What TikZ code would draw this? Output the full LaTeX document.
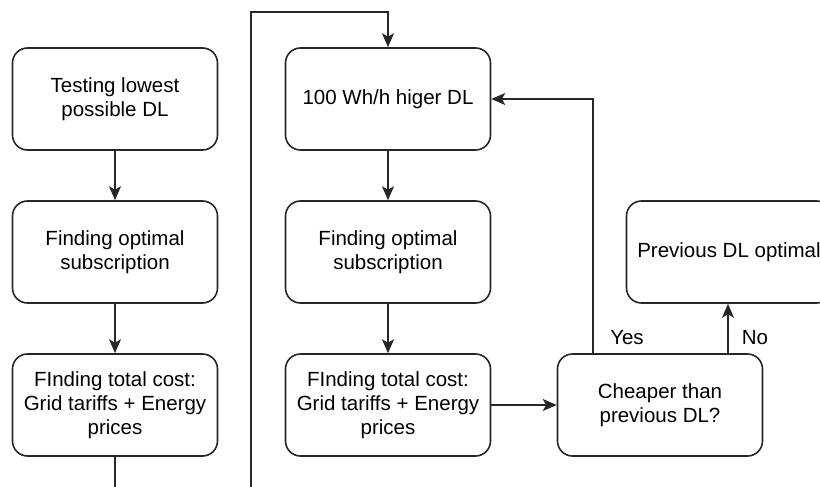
\documentclass[tikz,border=0pt]{standalone}
\usepackage{fontspec}
\setmainfont{Liberation Sans}
\usetikzlibrary{arrows.meta}
\begin{document}
\begin{tikzpicture}[x=1pt,y=-1pt,
  stepbox/.style={draw=black!85, line width=1.6pt, rounded corners=15pt,
    minimum width=205pt, minimum height=102pt, inner sep=0pt, align=center,
    font=\fontsize{20.5}{24}\selectfont},
  flow/.style={draw=black!85, line width=1.6pt,
    -{Stealth[length=14pt,width=12pt,inset=3.5pt]}},
  wire/.style={draw=black!85, line width=1.6pt},
  lbl/.style={font=\fontsize{20.5}{24}\selectfont, inner sep=0pt}]
\useasboundingbox (0,0) rectangle (820,487);
\clip (0,0) rectangle (820,487);

% first column
\node[stepbox] (a1) at (115,99) {Testing lowest\\possible DL};
\node[stepbox] (a2) at (115,252) {Finding optimal\\subscription};
\node[stepbox] (a3) at (115,405) {FInding total cost:\\Grid tariffs + Energy\\prices};

% second column
\node[stepbox] (b1) at (388,99) {100 Wh/h higer DL};
\node[stepbox] (b2) at (388,252) {Finding optimal\\subscription};
\node[stepbox] (b3) at (388,405) {FInding total cost:\\Grid tariffs + Energy\\prices};

% decision and result
\node[stepbox] (c1) at (660,405) {Cheaper than\\previous DL?};
\node[stepbox] (c2) at (729,252) {Previous DL optimal};

\coordinate (lowA) at (115,492);
\coordinate (lowB) at (251,492);
\coordinate (topB) at (251,12);

\draw[flow] (a1) -- (a2);
\draw[flow] (a2) -- (a3);
\draw[wire] (a3) -- (lowA);

\draw[flow] (lowB) -- (topB) -| (b1.north);
\draw[flow] (b1) -- (b2);
\draw[flow] (b2) -- (b3);
\draw[flow] (b3) -- (c1);

\draw[flow] (c1.north -| 593,0) |- (b1.east);
\draw[flow] (c1.north -| 728,0) -- (c2.south -| 728,0);

\node[lbl] (yes) at (627,338) {Yes};
\node[lbl] (no) at (755,338) {No};
\end{tikzpicture}
\end{document}
